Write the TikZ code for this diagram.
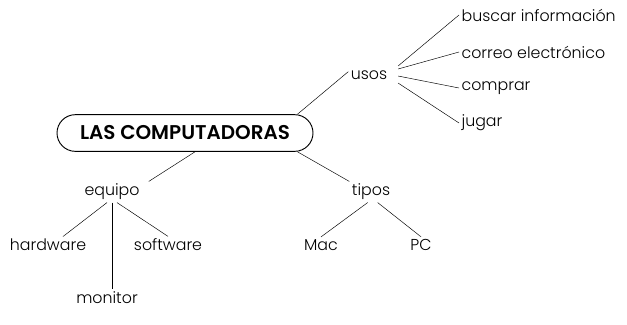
\documentclass[tikz,border=0pt]{standalone}
\usepackage{fontspec}
\setmainfont{Poppins}[UprightFont=* Light, BoldFont=* SemiBold]
\usepackage{tikz}
\usetikzlibrary{positioning}
\tikzstyle{title} = [rectangle, draw, thick, rounded corners=0.55cm, minimum width=7.68cm, minimum height=1.1cm, font=\fontsize{17}{19}\selectfont\bfseries]
\tikzstyle{word} = [inner sep=2pt, font=\fontsize{13.5}{15}\selectfont]
\tikzstyle{leaf} = [word, anchor=west]
\tikzstyle{line} = [draw, thin]

\begin{document}
\begin{tikzpicture}[x=0.03cm, y=-0.03cm]
	\useasboundingbox (0,0) rectangle (627,324);
	
	% Place nodes
	\node [title]			(Computadoras)	at (185,133)	{LAS COMPUTADORAS};
	\node [word]			(Usos)			at (369,75)		{usos};
	\node [leaf]			(Buscar)		at (459,15)		{buscar información};
	\node [leaf]			(Correo)		at (459,52)		{correo electrónico};
	\node [leaf]			(Comprar)		at (459,88)		{comprar};
	\node [leaf]			(Jugar)			at (459,123)	{jugar};
	\node [word]			(Equipo)		at (112,192)	{equipo};
	\node [word]			(Tipos)			at (371,192)	{tipos};
	\node [word]			(Hardware)		at (48,245)		{hardware};
	\node [word]			(Software)		at (168,245)	{software};
	\node [word]			(Monitor)		at (107,298)	{monitor};
	\node [word]			(Mac)			at (321,245)	{Mac};
	\node [word]			(PC)			at (421,245)	{PC};
	
	%Draw edges
	\path [line] ([xshift=-0.48cm]Computadoras.north east)	-- ([yshift=0.1cm]Usos.west);
	\path [line] ([xshift=0.3cm]Computadoras.south)			-- ([xshift=0.2cm]Equipo.north east);
	\path [line] ([xshift=-0.48cm]Computadoras.south east)	-- (Tipos.north west);
	\path [line] ([xshift=0.25cm, yshift=0.27cm]Usos.east)	-- (Buscar.west);
	\path [line] ([xshift=0.25cm, yshift=0.18cm]Usos.east)	-- (Correo.west);
	\path [line] ([xshift=0.25cm, yshift=-0.03cm]Usos.east)	-- (Comprar.west);
	\path [line] ([xshift=0.25cm, yshift=-0.24cm]Usos.east)	-- (Jugar.west);
	\path [line] ([xshift=-0.15cm]Equipo.south)	-- ([xshift=0.45cm]Hardware.north);
	\path [line] (Equipo.south)					-- (Equipo.south |- Monitor.north);
	\path [line] ([xshift=0.15cm]Equipo.south)	-- (Software.north);
	\path [line] ([xshift=-0.1cm]Tipos.south)	-- (Mac.north);
	\path [line] ([xshift=0.2cm]Tipos.south)	-- (PC.north);
	
\end{tikzpicture}
\end{document}
